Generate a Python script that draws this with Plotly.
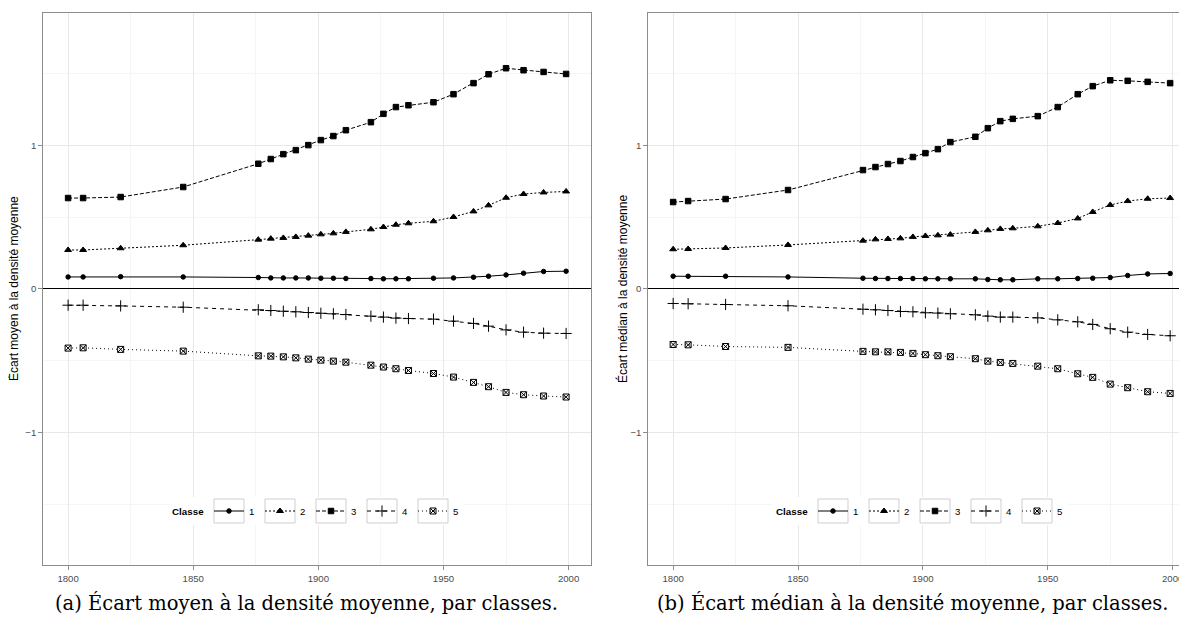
import plotly.graph_objects as go

years = [1800, 1806, 1821, 1846, 1876, 1881, 1886, 1891, 1896, 1901, 1906, 1911,
         1921, 1926, 1931, 1936, 1946, 1954, 1962, 1968, 1975, 1982, 1990, 1999]
classes = ["1", "2", "3", "4", "5"]

# (a) Écart moyen
mean_c1 = [0.083, 0.083, 0.085, 0.083, 0.079, 0.076, 0.076, 0.076, 0.076, 0.074, 0.074, 0.072,
           0.072, 0.070, 0.070, 0.070, 0.074, 0.076, 0.081, 0.088, 0.097, 0.109, 0.121, 0.123]
mean_c2 = [0.271, 0.271, 0.283, 0.304, 0.343, 0.350, 0.355, 0.362, 0.371, 0.380, 0.387, 0.397,
           0.415, 0.431, 0.447, 0.457, 0.471, 0.501, 0.540, 0.582, 0.635, 0.661, 0.672, 0.679]
mean_c3 = [0.633, 0.633, 0.640, 0.710, 0.872, 0.905, 0.939, 0.967, 1.002, 1.037, 1.065, 1.106,
           1.162, 1.220, 1.267, 1.280, 1.301, 1.357, 1.434, 1.496, 1.538, 1.524, 1.512, 1.498]
mean_c4 = [-0.114, -0.114, -0.119, -0.128, -0.146, -0.151, -0.156, -0.160, -0.165, -0.170, -0.174, -0.179,
           -0.190, -0.197, -0.204, -0.207, -0.211, -0.225, -0.241, -0.260, -0.286, -0.302, -0.309, -0.311]
mean_c5 = [-0.413, -0.411, -0.422, -0.434, -0.467, -0.469, -0.474, -0.481, -0.490, -0.497, -0.504, -0.511,
           -0.532, -0.545, -0.557, -0.569, -0.590, -0.615, -0.652, -0.682, -0.722, -0.738, -0.747, -0.754]

# (b) Écart médian
med_c1 = [0.088, 0.088, 0.088, 0.083, 0.074, 0.072, 0.072, 0.072, 0.072, 0.070, 0.070, 0.070,
          0.070, 0.065, 0.063, 0.063, 0.070, 0.070, 0.072, 0.074, 0.079, 0.093, 0.104, 0.107]
med_c2 = [0.276, 0.278, 0.285, 0.306, 0.336, 0.345, 0.348, 0.352, 0.362, 0.369, 0.373, 0.378,
          0.397, 0.408, 0.418, 0.422, 0.436, 0.459, 0.491, 0.536, 0.585, 0.612, 0.628, 0.633]
med_c3 = [0.605, 0.612, 0.626, 0.689, 0.828, 0.849, 0.870, 0.891, 0.919, 0.946, 0.974, 1.023,
          1.060, 1.120, 1.169, 1.185, 1.204, 1.267, 1.357, 1.413, 1.454, 1.450, 1.443, 1.434]
med_c4 = [-0.102, -0.104, -0.109, -0.118, -0.142, -0.146, -0.151, -0.158, -0.160, -0.167, -0.169, -0.174,
          -0.181, -0.190, -0.197, -0.197, -0.202, -0.216, -0.230, -0.248, -0.278, -0.302, -0.318, -0.327]
med_c5 = [-0.388, -0.390, -0.402, -0.408, -0.436, -0.439, -0.439, -0.443, -0.450, -0.459, -0.466, -0.473,
          -0.487, -0.504, -0.513, -0.520, -0.539, -0.557, -0.592, -0.617, -0.664, -0.689, -0.717, -0.729]

y_tickvals = [-1, 0, 1]
y_ticktext = ["\u22121", "0", "1"]
x_tickvals = [1800, 1850, 1900, 1950, 2000]

mean_series = [mean_c1, mean_c2, mean_c3, mean_c4, mean_c5]
med_series = [med_c1, med_c2, med_c3, med_c4, med_c5]

symbols = ["circle", "triangle-up", "square", "cross-thin-open", "square-x-open"]
msizes = [4.5, 6, 5.5, 8, 6]
dashes = ["solid", "2px,2px", "4px,2px", "4px,4px", "1px,3px"]

fig = go.Figure()

for series, xa, ya, lg in [(mean_series, "x", "y", "legend"),
                           (med_series, "x2", "y2", "legend2")]:
    for i, (name, vals) in enumerate(zip(classes, series)):
        fig.add_trace(go.Scatter(
            x=years, y=vals, name=name, mode="lines+markers",
            xaxis=xa, yaxis=ya, legend=lg,
            line=dict(color="black", width=1, dash=dashes[i]),
            marker=dict(symbol=symbols[i], size=msizes[i], color="black",
                        line=dict(color="black", width=1)),
        ))

FONT = "Liberation Sans, Arial, sans-serif"
SERIF = "DejaVu Serif, serif"
W, H = 1187, 639
OFF = 8  # page body margin


def px(x):
    return (x - OFF) / W


def py(y):
    return 1 - (y - OFF) / H


axis_common = dict(
    showline=True, linecolor="#8c8c8c", linewidth=1, mirror=True,
    ticks="outside", ticklen=4, tickcolor="#8c8c8c", tickwidth=1,
    tickfont=dict(family=FONT, size=9.6, color="#4d4d4d"),
    showgrid=True, gridcolor="#e8e8e8", gridwidth=1,
    zeroline=False,
)
yaxis_extra = dict(zeroline=True, zerolinecolor="black", zerolinewidth=1.1)
minor_x = dict(dtick=25, tick0=1800, showgrid=True, gridcolor="#f5f5f5", gridwidth=0.6)
minor_y = dict(tickvals=[-1.5, -0.5, 0.5, 1.5], showgrid=True, gridcolor="#f5f5f5", gridwidth=0.6)

xr = [1790.05, 2008.95]
yr = [-1.925, 1.925]
ydom = [py(565), py(12.7)]

LEG_Y = 511
PITCH = 51  # 40 (symbol + gaps) + entrywidth 6 + itemGap 5
legend_common = dict(orientation="h", yanchor="middle", xanchor="left",
                     font=dict(size=9.6, family=FONT, color="black"),
                     bgcolor="rgba(255,255,255,0)", itemwidth=30, tracegroupgap=0,
                     entrywidth=6, entrywidthmode="pixels")

legend_lefts = [209, 813]
shapes = []
annotations = []
for L in legend_lefts:
    # white legend background
    shapes.append(dict(type="rect", xref="paper", yref="paper", layer="above",
                       x0=px(L - 40), x1=px(L + 4 * PITCH + 52), y0=py(LEG_Y + 14), y1=py(LEG_Y - 14),
                       line=dict(width=0), fillcolor="white"))
    for k in range(len(classes)):
        c = L + 20 + k * PITCH
        shapes.append(dict(type="rect", xref="paper", yref="paper", layer="above",
                           x0=px(c - 15), x1=px(c + 15), y0=py(LEG_Y + 12), y1=py(LEG_Y - 12),
                           line=dict(color="#cfcfcf", width=1), fillcolor="white"))
    annotations.append(dict(text="<b>Classe</b>", xref="paper", yref="paper", x=px(L - 3), y=py(LEG_Y),
                            showarrow=False, xanchor="right", yanchor="middle",
                            font=dict(family=FONT, size=9.8, color="black")))

annotations += [
    dict(text="Écart moyen à la densité moyenne", xref="paper", yref="paper",
         x=px(13), y=py(289), textangle=-90, showarrow=False,
         font=dict(family=FONT, size=12, color="black"), xanchor="center", yanchor="middle"),
    dict(text="Écart médian à la densité moyenne", xref="paper", yref="paper",
         x=px(622), y=py(289), textangle=-90, showarrow=False,
         font=dict(family=FONT, size=12, color="black"), xanchor="center", yanchor="middle"),
    dict(text="(a) Écart moyen à la densité moyenne, par classes.", xref="paper", yref="paper",
         x=px(53), y=py(603), showarrow=False,
         font=dict(family=SERIF, size=19.5, color="black"),
         xanchor="left", yanchor="middle"),
    dict(text="(b) Écart médian à la densité moyenne, par classes.", xref="paper", yref="paper",
         x=px(655), y=py(603), showarrow=False,
         font=dict(family=SERIF, size=19.5, color="black"),
         xanchor="left", yanchor="middle"),
]

fig.update_layout(
    width=W, height=H,
    margin=dict(l=0, r=0, t=0, b=0),
    paper_bgcolor="white", plot_bgcolor="white",
    font=dict(family=FONT, size=10, color="black"),
    xaxis=dict(domain=[px(43.2), px(591)], range=xr, tickvals=x_tickvals, anchor="y",
               minor=minor_x, **axis_common),
    yaxis=dict(domain=ydom, range=yr, tickvals=y_tickvals, ticktext=y_ticktext,
               anchor="x", minor=minor_y, **{**axis_common, **yaxis_extra}),
    xaxis2=dict(domain=[px(648.3), 1.0], range=xr, tickvals=x_tickvals, anchor="y2",
                minor=minor_x, **axis_common),
    yaxis2=dict(domain=ydom, range=yr, tickvals=y_tickvals, ticktext=y_ticktext,
                anchor="x2", minor=minor_y, **{**axis_common, **yaxis_extra}),
    legend=dict(x=px(legend_lefts[0]), y=py(LEG_Y), **legend_common),
    legend2=dict(x=px(legend_lefts[1]), y=py(LEG_Y), **legend_common),
    shapes=shapes,
    annotations=annotations,
)

fig.write_html("out.html")
